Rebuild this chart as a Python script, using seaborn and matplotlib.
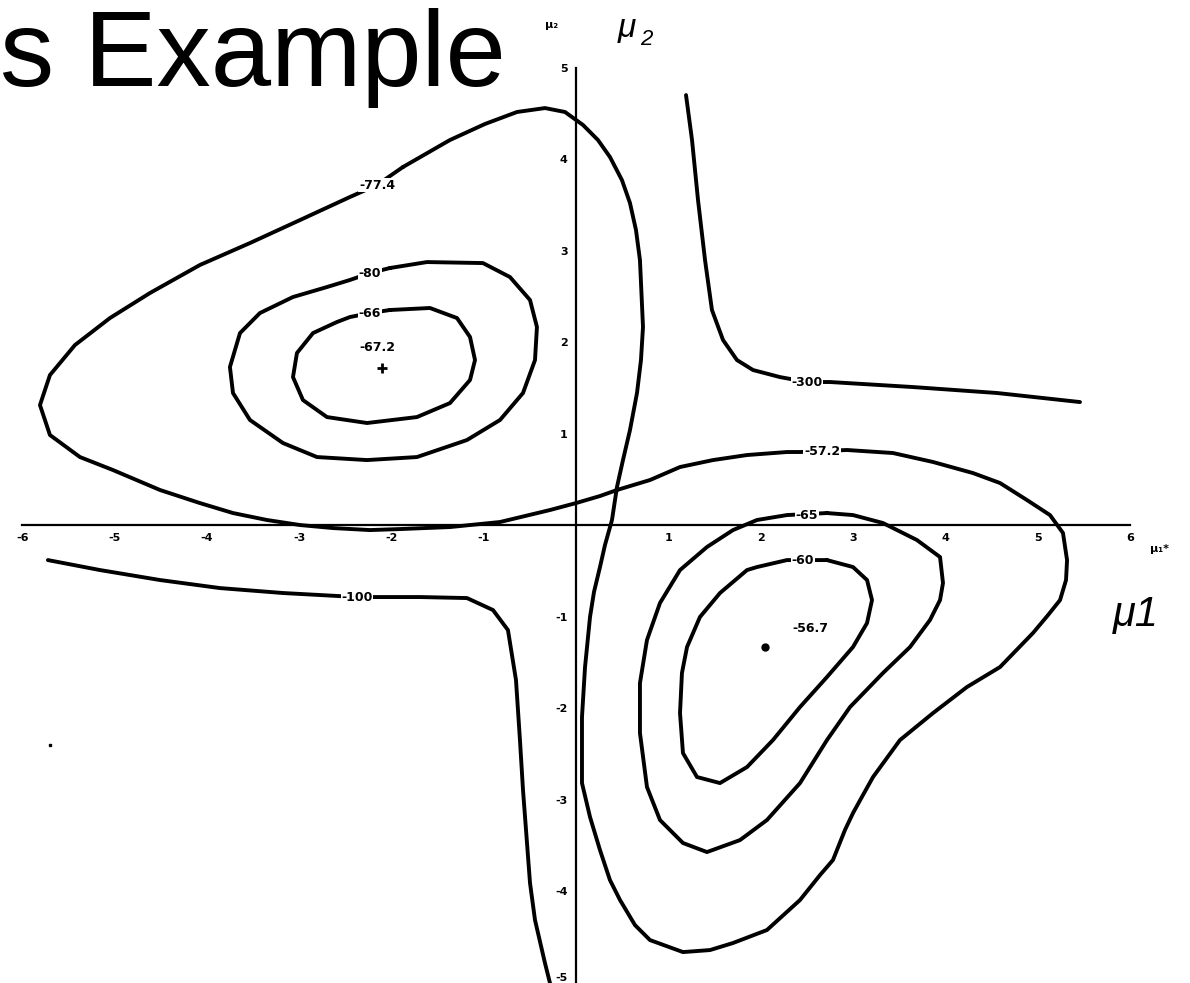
import numpy as np
import matplotlib
matplotlib.use("Agg")
import matplotlib.pyplot as plt
import seaborn as sns

# contour lines (mu1, mu2)
saddle_x = [-1.874, -1.365, -0.986, -0.639, -0.336, -0.119, 0.076, 0.238, 0.368, 0.498,
            0.585, 0.650, 0.693, 0.726, 0.704, 0.661, 0.585, 0.509, 0.444, 0.390,
            0.314, 0.260, 0.195, 0.152, 0.098, 0.065, 0.065, 0.152, 0.260, 0.368,
            0.477, 0.639, 0.802, 1.159, 1.452, 1.701, 2.069, 2.427, 2.644, 2.784,
            2.914, 3.001, 3.109, 3.218, 3.510, 3.868, 4.236, 4.594, 4.951, 5.114,
            5.244, 5.309, 5.320, 5.276, 5.135, 4.886, 4.594, 4.301, 3.868, 3.434,
            2.936, 2.427, 2.286, 1.853, 1.484, 1.127, 0.802, 0.444, 0.260, 0.0,
            -0.282, -0.823, -1.365, -1.907, -2.232, -2.633, -2.990, -3.348, -3.716, -4.074,
            -4.507, -5.016, -5.374, -5.699, -5.807, -5.699, -5.428, -5.049, -4.615, -4.074,
            -3.532, -2.990, -2.449, -2.156, -1.874]
saddle_y = [3.913, 4.208, 4.383, 4.514, 4.557, 4.514, 4.372, 4.208, 4.022, 3.770,
            3.519, 3.224, 2.896, 2.164, 1.803, 1.443, 1.038, 0.710, 0.415, 0.055,
            -0.219, -0.459, -0.732, -1.005, -1.552, -2.098, -2.820, -3.191, -3.552, -3.880,
            -4.098, -4.372, -4.536, -4.667, -4.645, -4.568, -4.426, -4.098, -3.825, -3.661,
            -3.333, -3.148, -2.951, -2.754, -2.350, -2.055, -1.770, -1.552, -1.180, -0.984,
            -0.820, -0.601, -0.383, -0.087, 0.109, 0.273, 0.459, 0.568, 0.689, 0.787,
            0.820, 0.798, 0.798, 0.765, 0.710, 0.634, 0.492, 0.383, 0.317, 0.240,
            0.164, 0.033, -0.022, -0.044, -0.055, -0.033, 0.0, 0.055, 0.131, 0.240,
            0.383, 0.601, 0.743, 0.984, 1.311, 1.639, 1.967, 2.262, 2.536, 2.842,
            3.082, 3.333, 3.585, 3.716, 3.913]

ul_mid_x = [-2.015, -1.614, -1.008, -0.715, -0.498, -0.423, -0.444, -0.574, -0.823, -1.181,
            -1.723, -2.264, -2.806, -3.174, -3.532, -3.716, -3.749, -3.640, -3.424, -3.066,
            -2.698, -2.449, -2.232, -2.015]
ul_mid_y = [2.809, 2.874, 2.863, 2.710, 2.459, 2.164, 1.803, 1.443, 1.148, 0.929,
            0.743, 0.710, 0.743, 0.896, 1.148, 1.443, 1.727, 2.098, 2.317, 2.492,
            2.601, 2.678, 2.754, 2.809]

ul_in_x = [-2.015, -1.582, -1.289, -1.148, -1.094, -1.148, -1.365, -1.723, -2.264, -2.698,
           -2.958, -3.066, -3.023, -2.849, -2.589, -2.449, -2.232, -2.015]
ul_in_y = [2.350, 2.372, 2.262, 2.055, 1.803, 1.585, 1.333, 1.180, 1.115, 1.180,
           1.366, 1.617, 1.880, 2.098, 2.219, 2.273, 2.317, 2.350]

lr_mid_x = [2.719, 3.001, 3.326, 3.694, 3.944, 3.976, 3.944, 3.835, 3.619, 3.326,
            2.969, 2.719, 2.427, 2.069, 1.777, 1.419, 1.159, 0.910, 0.769, 0.693,
            0.693, 0.769, 0.910, 1.127, 1.419, 1.701, 1.961, 2.286, 2.503, 2.719]
lr_mid_y = [0.131, 0.109, 0.022, -0.164, -0.350, -0.634, -0.820, -1.038, -1.333, -1.617,
            -1.989, -2.350, -2.820, -3.224, -3.443, -3.574, -3.475, -3.224, -2.863, -2.273,
            -1.727, -1.257, -0.852, -0.492, -0.240, -0.055, 0.055, 0.109, 0.120, 0.131]

lr_in_x = [2.719, 3.001, 3.153, 3.207, 3.153, 3.001, 2.719, 2.427, 2.134, 1.853,
           1.560, 1.311, 1.159, 1.127, 1.148, 1.203, 1.343, 1.560, 1.853, 1.961,
           2.286, 2.459, 2.719]
lr_in_y = [-0.383, -0.459, -0.601, -0.820, -1.071, -1.333, -1.661, -1.989, -2.350, -2.645,
           -2.820, -2.754, -2.492, -2.055, -1.617, -1.333, -1.005, -0.743, -0.492, -0.459,
           -0.383, -0.383, -0.383]

low_x = [-5.721, -5.157, -4.507, -3.857, -3.174, -2.373, -1.690, -1.181, -0.899, -0.737,
         -0.650, -0.607, -0.574, -0.498, -0.444, -0.336, -0.282]
low_y = [-0.383, -0.492, -0.601, -0.689, -0.743, -0.787, -0.787, -0.798, -0.929, -1.148,
         -1.694, -2.350, -2.896, -3.913, -4.317, -4.787, -5.005]

high_x = [1.192, 1.257, 1.322, 1.398, 1.473, 1.593, 1.744, 1.918, 2.210, 2.503,
          2.752, 3.651, 4.561, 5.460]
high_y = [4.699, 4.208, 3.552, 2.896, 2.350, 2.022, 1.803, 1.694, 1.617, 1.563,
          1.563, 1.508, 1.443, 1.344]

contours = [(saddle_x, saddle_y), (ul_mid_x, ul_mid_y), (ul_in_x, ul_in_y),
            (lr_mid_x, lr_mid_y), (lr_in_x, lr_in_y), (low_x, low_y), (high_x, high_y)]

level_labels = ["-77.4", "-80", "-66", "-67.2", "-57.2", "-65", "-60", "-56.7", "-100", "-300"]
label_x = [-2.156, -2.232, -2.232, -2.156, 2.665, 2.503, 2.459, 2.535, -2.373, 2.503]
label_y = [3.716, 2.754, 2.317, 1.945, 0.809, 0.109, -0.383, -1.126, -0.787, 1.563]

mode_x = [-2.102, 2.048]
mode_y = [1.716, -1.333]

x_ticks = [-6, -5, -4, -3, -2, -1, 1, 2, 3, 4, 5, 6]
y_ticks = [-5, -4, -3, -2, -1, 1, 2, 3, 4, 5]

sns.set_theme(style="white")
plt.rcParams['font.family'] = ['DejaVu Sans']
plt.rcParams['axes.unicode_minus'] = False

fig = plt.figure(figsize=(11.9, 9.83), dpi=100)
ax = fig.add_axes([0, 0, 1, 1])
ax.set_facecolor("white")

for cx, cy in contours:
    sns.lineplot(x=cx, y=cy, sort=False, estimator=None, color="black",
                 linewidth=2.8, ax=ax, solid_joinstyle="round", solid_capstyle="round")

for t, lx, ly in zip(level_labels, label_x, label_y):
    ax.text(lx, ly, t, ha="center", va="center", fontsize=9, fontweight="bold",
            color="black", bbox=dict(facecolor="white", edgecolor="none", pad=0.5))

ax.plot(mode_x[:1], mode_y[:1], marker="+", color="black", markersize=7, mew=2)
ax.plot(mode_x[1:], mode_y[1:], marker="o", color="black", markersize=5)
ax.plot([-5.699], [-2.404], marker="s", color="black", markersize=2)

ax.set_xlim(-6.240, 6.652)
ax.set_ylim(-5.005, 5.738)

for side in ["top", "right"]:
    ax.spines[side].set_visible(False)
ax.spines["left"].set_position(("data", 0))
ax.spines["bottom"].set_position(("data", 0))
ax.spines["bottom"].set_bounds(-6, 6)
ax.spines["left"].set_bounds(-5, 5)
for side in ["left", "bottom"]:
    ax.spines[side].set_color("black")
    ax.spines[side].set_linewidth(1.6)

ax.set_xticks(x_ticks)
ax.set_yticks(y_ticks)
ax.set_xticklabels([str(v) for v in x_ticks])
ax.set_yticklabels([str(v) for v in y_ticks])
ax.tick_params(axis="x", direction="in", length=15, width=1.4, pad=6,
               labelsize=8, colors="black")
ax.tick_params(axis="y", direction="in", length=18, width=1.4, pad=6,
               labelsize=8, colors="black")
for lab in ax.get_xticklabels() + ax.get_yticklabels():
    lab.set_fontweight("bold")
# the bottom label sits on the figure edge in the scan; lift it a little
ax.get_yticklabels()[0].set_va("bottom")
ax.grid(False)

H = 983.0
W = 1190.0
fig.text(0.0, 1 - 86 / H, "s Example", fontsize=78, family="Liberation Sans",
         va="baseline", ha="left", color="black")
fig.text(618 / W, 1 - 37 / H, "μ", fontsize=24, family="Liberation Sans",
         style="italic", va="baseline", color="black")
fig.text(640 / W, 1 - 45 / H, "2", fontsize=16, family="Liberation Sans",
         style="italic", va="baseline", color="black")
fig.text(1113 / W, 1 - 626 / H, "μ1", fontsize=30, family="Liberation Sans",
         style="italic", va="baseline", color="black")
fig.text(545 / W, 1 - 28 / H, "μ₂", fontsize=8, fontweight="bold", va="baseline",
         color="black")
fig.text(1150 / W, 1 - 552 / H, "μ₁*", fontsize=8, fontweight="bold", va="baseline",
         color="black")

fig.savefig("out.png", dpi=100, facecolor="white")
